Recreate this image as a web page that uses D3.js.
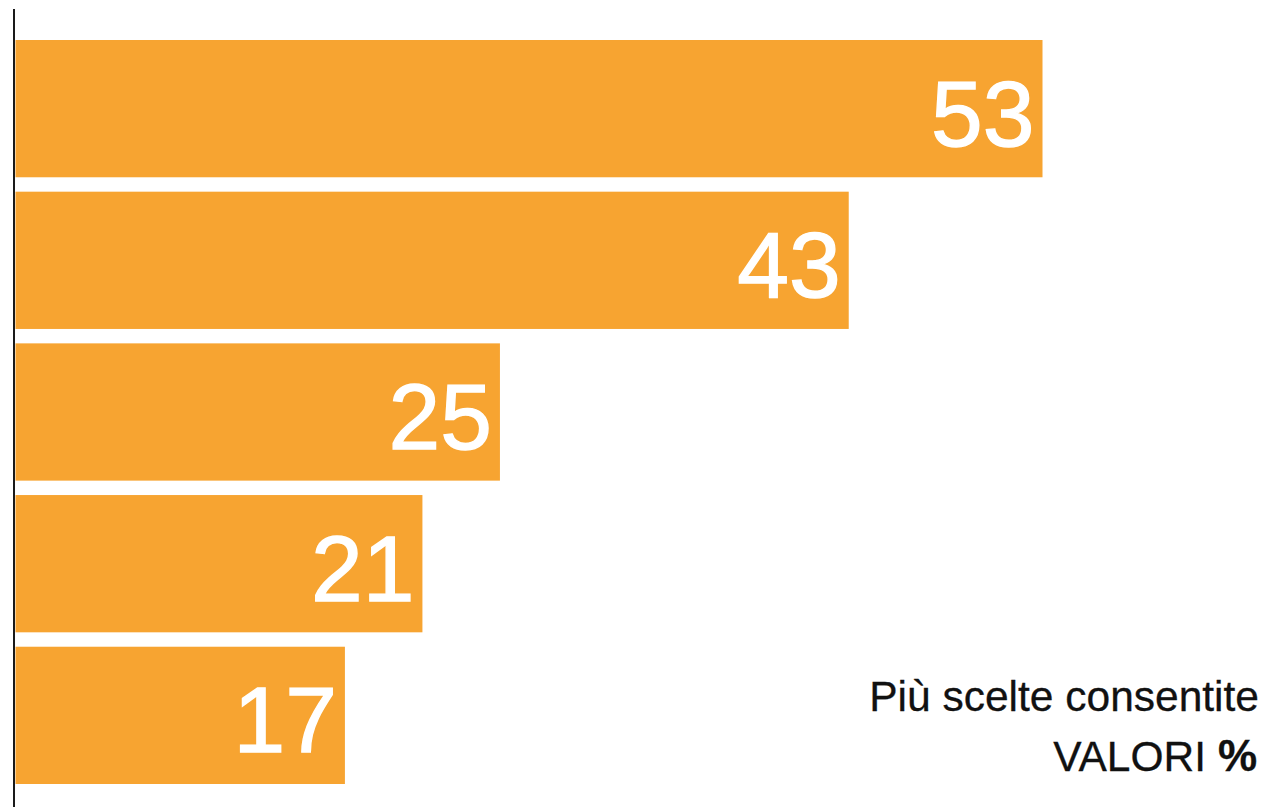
<!DOCTYPE html>
<html>
<head>
<meta charset="utf-8">
<script src="https://cdn.jsdelivr.net/npm/d3@7"></script>
<style>
  html, body { margin: 0; padding: 0; background: #fff; }
  svg { display: block; }
  text { font-family: "Liberation Sans", Arial, Helvetica, sans-serif; }
</style>
</head>
<body>
<svg id="chart" width="1267" height="807"></svg>
<script>
const categories = ["A", "B", "C", "D", "E"];
const values = [53, 43, 25, 21, 17];
const noteLine1 = "Più scelte consentite";
const noteLine2 = "VALORI ";
const noteUnit = "%";

const W = 1267, H = 807;
const svg = d3.select("#chart");

const x = d3.scaleLinear().domain([0, 53]).range([15.5, 1042.5]);
const y = d3.scaleBand().domain(categories).range([40, 784]).paddingInner(0.095).paddingOuter(0);

const data = categories.map((c, i) => ({ c, v: values[i] }));

svg.selectAll("rect.bar").data(data).join("rect")
  .attr("class", "bar")
  .attr("x", x(0))
  .attr("y", d => y(d.c))
  .attr("width", d => x(d.v) - x(0))
  .attr("height", y.bandwidth())
  .attr("fill", "#F7A431");

svg.selectAll("text.val").data(data).join("text")
  .attr("class", "val")
  .attr("x", d => x(d.v) - 8)
  .attr("y", d => y(d.c) + y.bandwidth() / 2 + 37)
  .attr("text-anchor", "end")
  .attr("fill", "#fff")
  .attr("stroke", "#fff")
  .attr("stroke-width", 1.3)
  .attr("font-size", 93)
  .text(d => d.v);

// axis line
svg.append("line")
  .attr("x1", 14).attr("x2", 14)
  .attr("y1", 9).attr("y2", H)
  .attr("stroke", "#1a1a1a").attr("stroke-width", 2);

svg.append("text")
  .attr("x", 1259).attr("y", 711)
  .attr("text-anchor", "end")
  .attr("font-size", 42.5)
  .attr("fill", "#111")
  .attr("stroke", "#111")
  .attr("stroke-width", 0.3)
  .text(noteLine1);

const t2 = svg.append("text")
  .attr("x", 1257).attr("y", 771)
  .attr("text-anchor", "end")
  .attr("font-size", 42.5)
  .attr("fill", "#111")
  .attr("stroke", "#111")
  .attr("stroke-width", 0.3);
t2.append("tspan").text(noteLine2);
t2.append("tspan").attr("font-weight", "bold").attr("font-size", 44).text(noteUnit);
</script>
</body>
</html>
